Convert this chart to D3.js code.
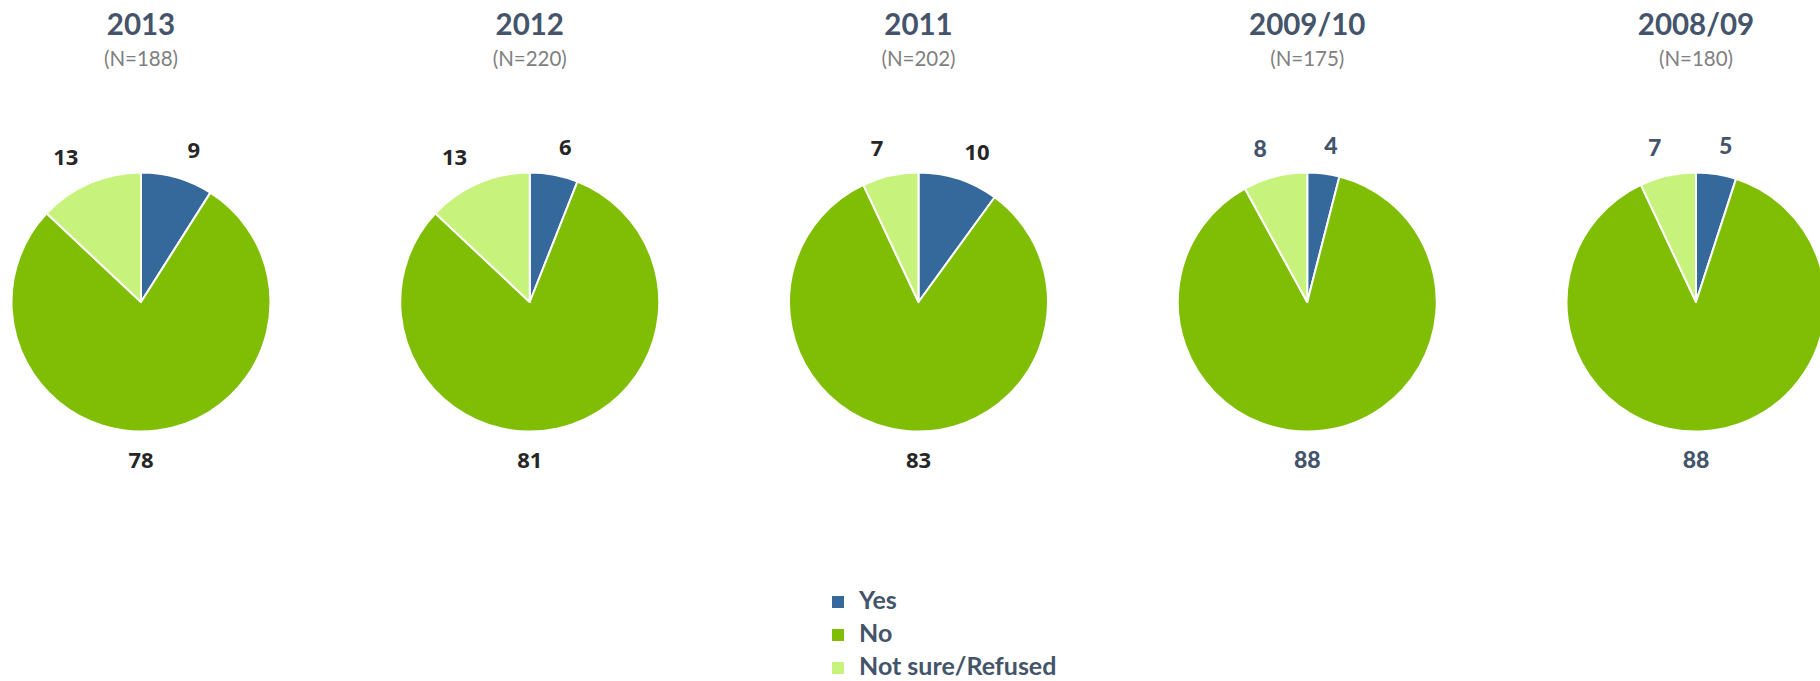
<!DOCTYPE html>
<html>
<head>
<meta charset="utf-8">
<script src="https://cdn.jsdelivr.net/npm/d3@7"></script>
<style>
    body { margin: 0; background: #fff; }
    svg { display: block; }
</style>
</head>
<body>
<svg id="pies"></svg>
<script>
(function () {
    const width = 1820;
    const height = 681;

    // Survey waves and their sample sizes
    const years = ["2013", "2012", "2011", "2009/10", "2008/09"];
    const sampleSizes = [188, 220, 202, 175, 180];

    // Answer categories and the share of each per wave (%)
    const categories = ["Yes", "No", "Not sure/Refused"];
    const yesValues = [9, 6, 10, 4, 5];
    const noValues = [78, 81, 83, 88, 88];
    const notSureValues = [13, 13, 7, 8, 7];

    const color = d3.scaleOrdinal()
        .domain(categories)
        .range(["#35689b", "#7fbe05", "#c7f27b"]);

    const radius = 129.5;
    const centerY = 302;
    const labelRadius = 158;

    const x = d3.scalePoint()
        .domain(years)
        .range([141, 1696]);

    const svg = d3.select("#pies")
        .attr("width", width)
        .attr("height", height);

    const pie = d3.pie()
        .sort(null)
        .value(d => d.value);

    const arc = d3.arc()
        .innerRadius(0)
        .outerRadius(radius);

    // label angle: slices that cover 6 o'clock get their label straight below,
    // the rest sit at their middle angle
    function labelAngle(d) {
        if (d.startAngle <= Math.PI && d.endAngle >= Math.PI) return Math.PI;
        return (d.startAngle + d.endAngle) / 2;
    }

    years.forEach((year, i) => {
        const values = [yesValues[i], noValues[i], notSureValues[i]];
        const slices = pie(categories.map((c, j) => ({ key: c, value: values[j] })));
        const cx = x(year);

        const g = svg.append("g")
            .attr("transform", `translate(${cx},${centerY})`);

        g.selectAll("path")
            .data(slices)
            .enter().append("path")
            .attr("d", arc)
            .attr("fill", d => color(d.data.key))
            .attr("stroke", "#fff")
            .attr("stroke-width", 2)
            .attr("stroke-linejoin", "round");

        // older waves use the slate label style
        const older = i >= 3;
        g.selectAll("text.value")
            .data(slices)
            .enter().append("text")
            .attr("class", "value")
            .attr("x", d => 1.2 * labelRadius * Math.sin(labelAngle(d)))
            .attr("y", d => -labelRadius * Math.cos(labelAngle(d)))
            .attr("dy", "0.36em")
            .attr("text-anchor", "middle")
            .attr("font-family", older ? "Lato" : "Open Sans")
            .attr("font-weight", older ? 900 : "bold")
            .attr("font-size", older ? 23 : 22)
            .attr("fill", older ? "#44546a" : "#262626")
            .text(d => d.data.value);

        // titles
        svg.append("text")
            .attr("x", cx)
            .attr("y", 35)
            .attr("text-anchor", "middle")
            .attr("font-family", "Lato")
            .attr("font-weight", "bold")
            .attr("font-size", 29.5)
            .attr("fill", "#44546a")
            .text(year);

        svg.append("text")
            .attr("x", cx)
            .attr("y", 66)
            .attr("text-anchor", "middle")
            .attr("font-family", "Lato")
            .attr("font-size", 20.5)
            .attr("fill", "#808080")
            .text(`(N=${sampleSizes[i]})`);
    });

    // Legend
    const legend = svg.append("g")
        .attr("transform", "translate(832,602)");

    const rows = legend.selectAll("g")
        .data(categories)
        .enter().append("g")
        .attr("transform", (d, i) => `translate(0,${i * 33})`);

    rows.append("rect")
        .attr("x", 0)
        .attr("y", -6)
        .attr("width", 12)
        .attr("height", 12)
        .attr("fill", d => color(d));

    rows.append("text")
        .attr("x", 27)
        .attr("y", 7)
        .attr("font-family", "Lato")
        .attr("font-weight", "bold")
        .attr("font-size", 25)
        .attr("fill", "#44546a")
        .text(d => d);
})();
</script>
</body>
</html>
